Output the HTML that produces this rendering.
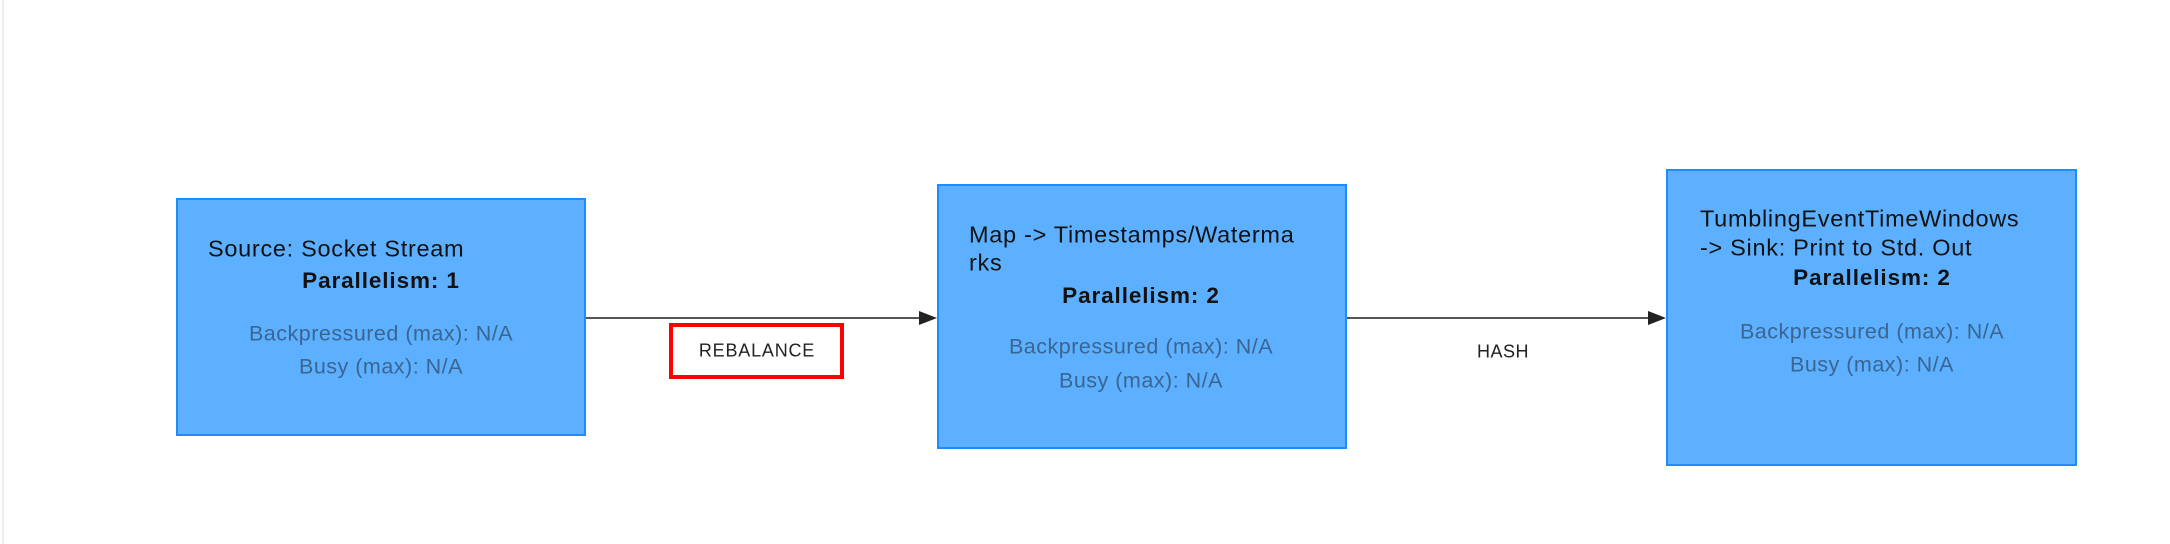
<!DOCTYPE html>
<html><head><meta charset="utf-8"><style>
body{margin:0;width:2170px;height:544px;background:#fff;position:relative;overflow:hidden;font-family:"Liberation Sans",Arial,sans-serif}
.b{position:absolute;background:#5cb0ff;border:2px solid #1e8cff;box-sizing:border-box}
.t{position:absolute;font-size:23.5px;letter-spacing:0.7px;color:#111;white-space:nowrap;transform:translateY(-50%)}
.c{position:absolute;font-size:21.5px;letter-spacing:0.5px;white-space:nowrap;transform:translate(-50%,-50%)}
.p{font-weight:bold;color:#111;font-size:22.5px;letter-spacing:0.9px}
.g{color:#3a6590}
</style></head><body>
<div style="position:absolute;left:2px;top:0;width:2px;height:544px;background:#eee"></div>
<div class="b" style="left:176px;top:198px;width:410px;height:238px"></div>
<div class="b" style="left:937px;top:184px;width:410px;height:265px"></div>
<div class="b" style="left:1666px;top:169px;width:411px;height:297px"></div>
<svg style="position:absolute;left:0;top:0" width="2170" height="544">
<line x1="586" y1="318" x2="925" y2="318" stroke="#555" stroke-width="2"/>
<polygon points="937,318 919,311 919,325" fill="#222"/>
<line x1="1347" y1="318" x2="1654" y2="318" stroke="#555" stroke-width="2"/>
<polygon points="1666,318 1648,311 1648,325" fill="#222"/>
<rect x="671" y="325" width="171" height="52" fill="#fff" stroke="#f00" stroke-width="4"/>
</svg>
<div class="c" style="left:757px;top:351px;font-size:18px;letter-spacing:0.8px;color:#222">REBALANCE</div>
<div class="c" style="left:1503px;top:352px;font-size:18px;color:#222">HASH</div>

<div class="t" style="left:208px;top:249px">Source: Socket Stream</div>
<div class="c p" style="left:381px;top:281px">Parallelism: 1</div>
<div class="c g" style="left:381px;top:334px">Backpressured (max): N/A</div>
<div class="c g" style="left:381px;top:367px">Busy (max): N/A</div>

<div class="t" style="left:969px;top:235px">Map -&gt; Timestamps/Waterma</div>
<div class="t" style="left:969px;top:263px">rks</div>
<div class="c p" style="left:1141px;top:296px">Parallelism: 2</div>
<div class="c g" style="left:1141px;top:347px">Backpressured (max): N/A</div>
<div class="c g" style="left:1141px;top:381px">Busy (max): N/A</div>

<div class="t" style="left:1700px;top:219px">TumblingEventTimeWindows</div>
<div class="t" style="left:1700px;top:248px">-&gt; Sink: Print to Std. Out</div>
<div class="c p" style="left:1872px;top:278px">Parallelism: 2</div>
<div class="c g" style="left:1872px;top:332px">Backpressured (max): N/A</div>
<div class="c g" style="left:1872px;top:365px">Busy (max): N/A</div>
</body></html>
